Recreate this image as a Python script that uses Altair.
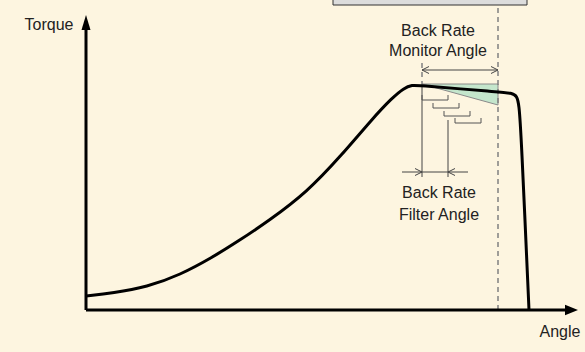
import altair as alt
import pandas as pd

# Coordinate system: angle (x) and torque (y), origin at the axes' corner
curve_angle = [0, 27, 61, 94, 127, 151, 184, 221, 254, 287, 306, 318, 326, 334, 412, 426, 431, 433, 435, 443, 443]
curve_torque = [14, 17, 23, 35, 53, 68, 90, 118, 153, 192, 212, 222, 225, 224.5, 218, 217, 214, 205, 180, 0, 0]

# monitor window
mon_start, mon_end = 336, 412
mon_top, mon_bottom = 226, 205
# filter window
filt_start, filt_end = 336, 362
# bracket staircase (left, right, level)
br_left = [336, 347, 358, 369]
br_right = [362, 373, 384, 395]
br_level = [210, 202, 194, 187]
br_tick = 5

FONT = "Liberation Sans"
BG = "#fdf5e0"

xs = alt.Scale(domain=[-86, 499], range=[0, 585])
ys = alt.Scale(domain=[-42, 310], range=[352, 0])

def X(f="x"):
    return alt.X(f"{f}:Q", scale=xs, axis=None)
def Y(f="y"):
    return alt.Y(f"{f}:Q", scale=ys, axis=None)

# top box
box = alt.Chart(pd.DataFrame({"x": [247], "x2": [441], "y": [305], "y2": [318]})).mark_rect(
    fill="#dcdcdc", stroke="#333333", strokeWidth=1
).encode(x=X(), x2="x2:Q", y=Y(), y2="y2:Q")

# green triangle
tri = alt.Chart(pd.DataFrame({"x": [mon_start, mon_end], "y": [mon_top, mon_bottom], "y2": [mon_top, mon_top]})).mark_area(
    fill="#c4e6cc", stroke="#8a8a8a", strokeWidth=1
).encode(x=X(), y=Y(), y2="y2:Q")

# dashed guides
dash = alt.Chart(pd.DataFrame({"x": [mon_end, mon_start], "y": [302, 247], "y2": [0, 225]})).mark_rule(
    color="#808080", strokeWidth=1.5, strokeDash=[5, 4]
).encode(x=X(), y=Y(), y2="y2:Q")

# solid filter guides
solid = alt.Chart(pd.DataFrame({"x": [filt_start, filt_end], "y": [225, 190], "y2": [133, 133]})).mark_rule(
    color="#444444", strokeWidth=1
).encode(x=X(), y=Y(), y2="y2:Q")

# brackets
rows = []
for i, (l, r, lv) in enumerate(zip(br_left, br_right, br_level)):
    pts = [(l, lv + br_tick), (l, lv), (r, lv), (r, lv + br_tick)]
    for k, (px, py) in enumerate(pts):
        rows.append({"b": i, "o": k, "x": px, "y": py})
brackets = alt.Chart(pd.DataFrame(rows)).mark_line(color="#555555", strokeWidth=1).encode(
    x=X(), y=Y(), detail="b:N", order="o:Q"
)

# dimension lines
dims = alt.Chart(pd.DataFrame({"x": [mon_start, 316], "x2": [mon_end, 382], "y": [240, 138]})).mark_rule(
    color="#444444", strokeWidth=1
).encode(x=X(), x2="x2:Q", y=Y())

right_head = "M-1,-0.5L0,0L-1,0.5"
left_head = "M1,-0.5L0,0L1,0.5"
heads_r = alt.Chart(pd.DataFrame({"x": [mon_end, filt_start], "y": [240, 138]})).mark_point(
    shape=right_head, filled=False, stroke="#444444", strokeWidth=1, size=196, opacity=1
).encode(x=X(), y=Y())
heads_l = alt.Chart(pd.DataFrame({"x": [mon_start, filt_end], "y": [240, 138]})).mark_point(
    shape=left_head, filled=False, stroke="#444444", strokeWidth=1, size=196, opacity=1
).encode(x=X(), y=Y())

# main curve
curve = alt.Chart(pd.DataFrame({"x": curve_angle, "y": curve_torque, "o": list(range(len(curve_angle)))})).mark_line(
    color="black", strokeWidth=3, interpolate="basis", strokeJoin="round"
).encode(x=X(), y=Y(), order="o:Q")

# axes
xaxis = alt.Chart(pd.DataFrame({"x": [0], "x2": [484], "y": [0]})).mark_rule(color="black", strokeWidth=3).encode(
    x=X(), x2="x2:Q", y=Y()
)
yaxis = alt.Chart(pd.DataFrame({"x": [0], "y": [0], "y2": [282]})).mark_rule(color="black", strokeWidth=3).encode(
    x=X(), y=Y(), y2="y2:Q"
)
xhead = alt.Chart(pd.DataFrame({"x": [492], "y": [0]})).mark_point(
    shape="M0,0L-1,-0.4L-1,0.4Z", filled=True, color="black", size=676, opacity=1
).encode(x=X(), y=Y())
yhead = alt.Chart(pd.DataFrame({"x": [0], "y": [295]})).mark_point(
    shape="M0,0L0.3,1L-0.3,1Z", filled=True, color="black", size=900, opacity=1
).encode(x=X(), y=Y())

# texts
txt = pd.DataFrame({
    "x": [352, 352, 353, 353, -37, 474],
    "y": [279, 259, 117, 95, 285, -22],
    "t": ["Back Rate", "Monitor Angle", "Back Rate", "Filter Angle", "Torque", "Angle"],
})
texts = alt.Chart(txt).mark_text(font=FONT, fontSize=16, color="#222222", baseline="middle", align="center").encode(
    x=X(), y=Y(), text="t:N"
)

chart = alt.layer(box, tri, dash, solid, brackets, dims, heads_r, heads_l, curve, xaxis, yaxis, xhead, yhead, texts).properties(
    width=585, height=352, padding=0, background=BG, autosize=alt.AutoSizeParams(type="none")
).configure_view(stroke=None)

chart.save("out.html", embed_options={"renderer": "svg", "actions": False})
